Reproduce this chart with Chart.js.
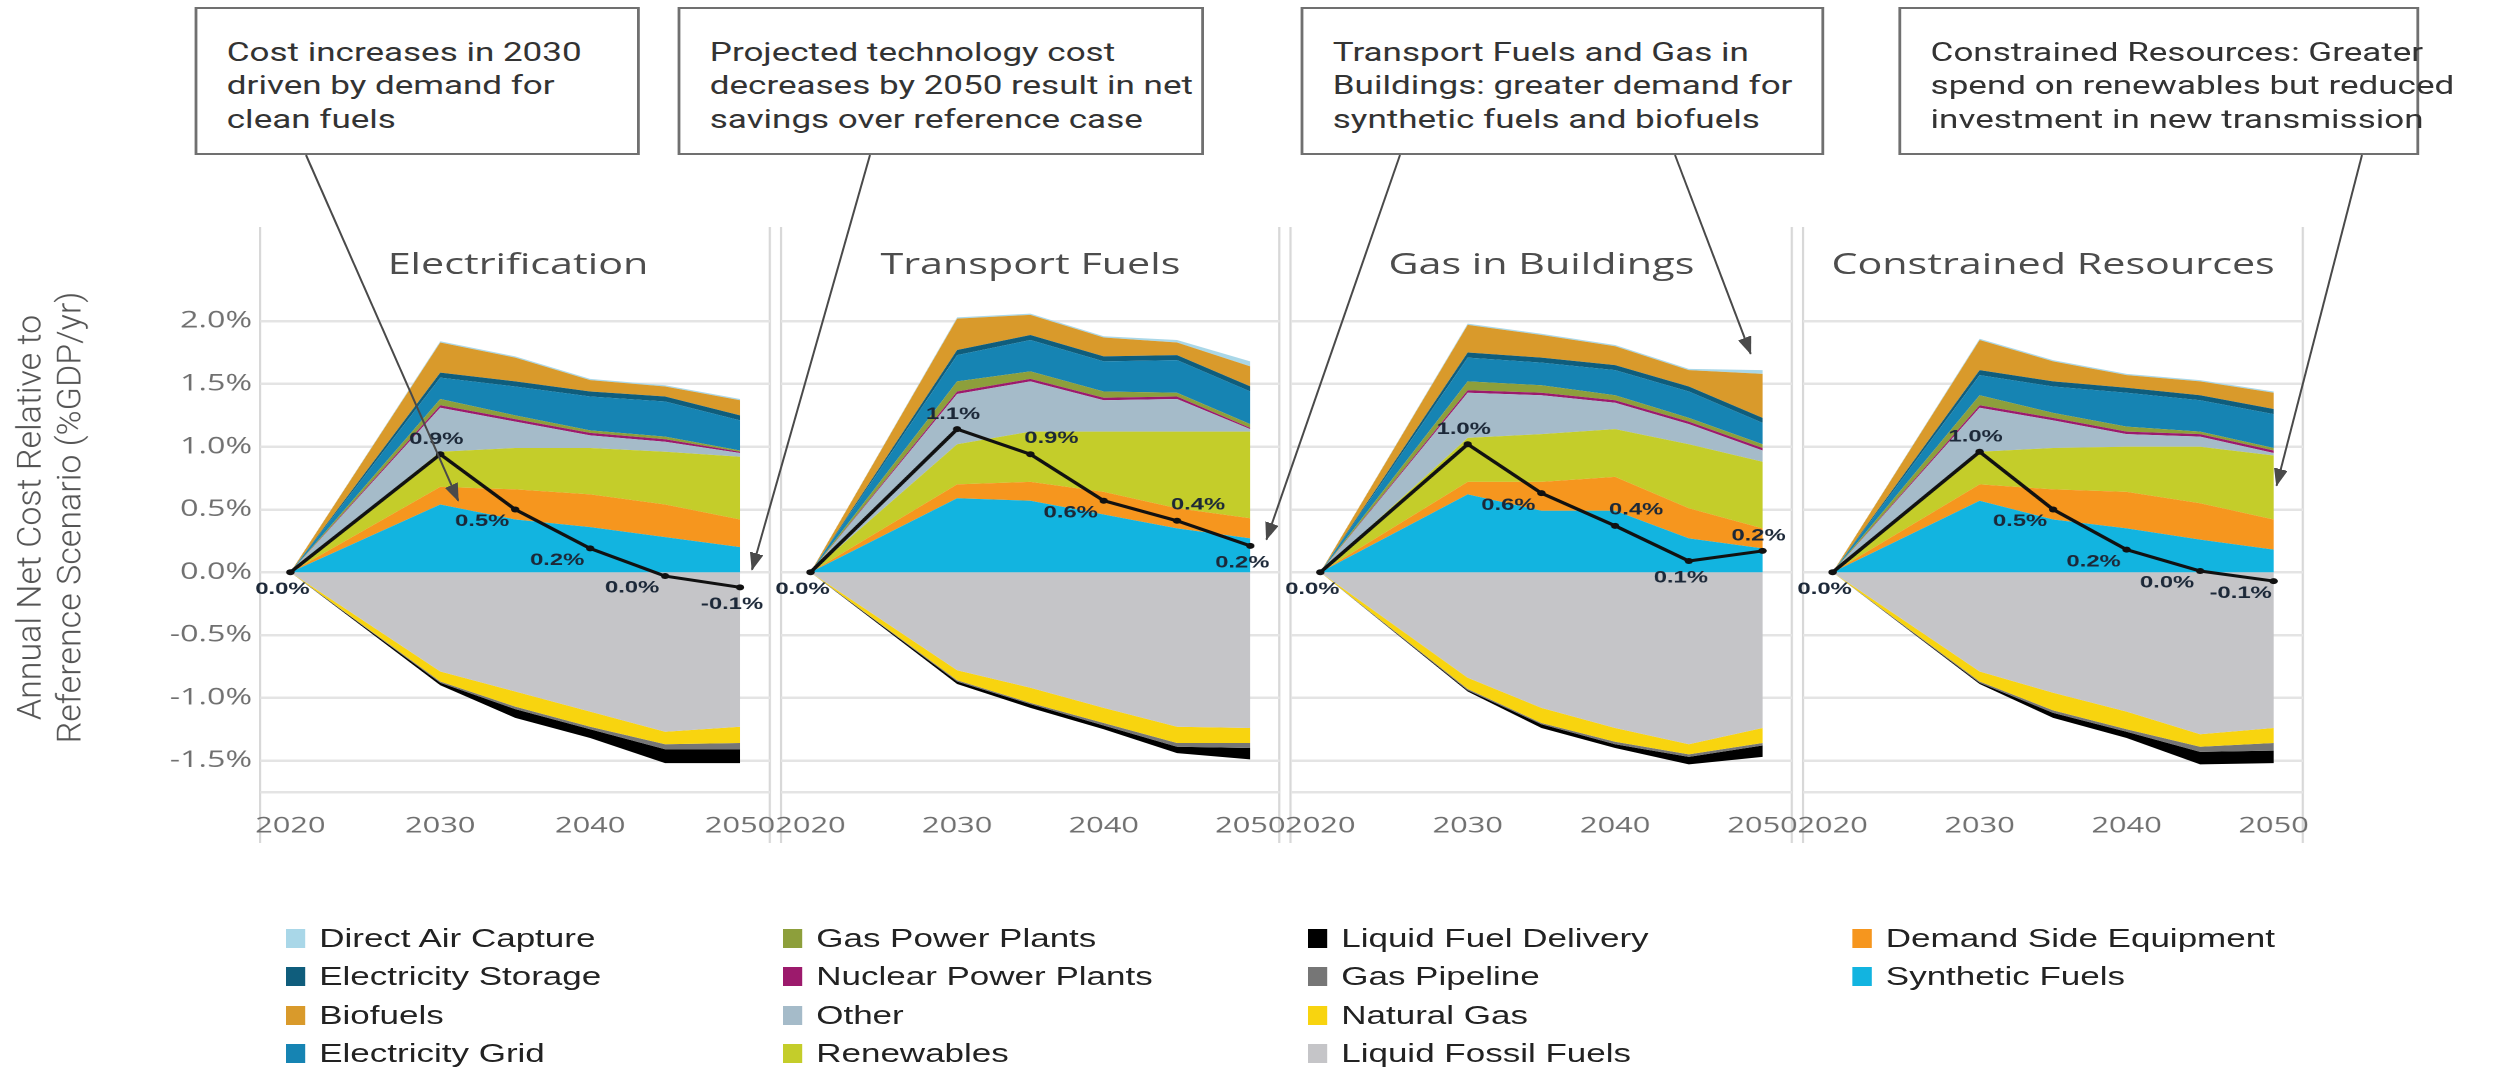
<!DOCTYPE html>
<html>
<head>
<meta charset="utf-8">
<title>Annual net cost relative to reference scenario</title>
<script src="https://cdn.jsdelivr.net/npm/chart.js@4.4.1/dist/chart.umd.min.js"></script>
<style>
  html, body { margin: 0; padding: 0; background: #fff; }
  body { position: relative; width: 2509px; height: 1070px; overflow: hidden; }
  #figure { position: absolute; left: 0; top: 0; width: 1792px; height: 1070px; transform: scaleX(1.4); transform-origin: 0 0; }
  #figure canvas { position: absolute; top: 200px; }
  .panel-title { position: absolute; top: 243px; height: 40px; line-height: 40px; text-align: center; font-family: 'Open Sans'; font-size: 29.5px; color: #4d4d4d; }
  .note { position: absolute; top: 7px; height: 148px; box-sizing: border-box; border: 2px solid #707070; background: #fff; padding: 27px 0 0 21px; font-family: Roboto; font-size: 25px; line-height: 33.3px; color: #333; white-space: nowrap; }
  .legend-col { position: absolute; top: 919px; font-family: 'Liberation Sans'; font-size: 25px; color: #222; }
  .legend-item { position: relative; height: 38.3px; line-height: 38.3px; padding-left: 24px; white-space: nowrap; }
  .legend-item i { position: absolute; left: 0; top: 10px; width: 14px; height: 19px; }
  #arrows { position: absolute; left: 0; top: 0; }
</style>
</head>
<body>
<div id="figure"></div>
<svg id="arrows" width="2509" height="1070">
  <defs>
    <marker id="head" viewBox="0 0 18 14" refX="17" refY="7" markerWidth="18" markerHeight="14" markerUnits="userSpaceOnUse" orient="auto">
      <path d="M0,0 L18,7 L0,14 z" fill="#4a4a4a"></path>
    </marker>
  </defs>
</svg>
<script>
const S = 1.4; // the figure is laid out narrow, then stretched sideways

const scenarios = ['Electrification', 'Transport Fuels', 'Gas in Buildings', 'Constrained Resources'];
const years = [2020, 2030, 2035, 2040, 2045, 2050];
const yearTicks = [2020, 2030, 2040, 2050];
const pctTicks = [-1.5, -1.0, -0.5, 0.0, 0.5, 1.0, 1.5, 2.0];
const yTitleLines = ['Annual Net Cost Relative to', 'Reference Scenario (%GDP/yr)'];

// one row per scenario, same order as above (%GDP/yr)
const syntheticFuels = [
  [0, 0.54, 0.42, 0.36, 0.28, 0.20],
  [0, 0.59, 0.57, 0.46, 0.35, 0.27],
  [0, 0.62, 0.49, 0.49, 0.27, 0.19],
  [0, 0.57, 0.42, 0.35, 0.26, 0.18]
];
const demandSideEquipment = [
  [0, 0.14, 0.24, 0.26, 0.26, 0.22],
  [0, 0.11, 0.15, 0.18, 0.16, 0.16],
  [0, 0.10, 0.23, 0.27, 0.24, 0.16],
  [0, 0.13, 0.24, 0.29, 0.29, 0.24]
];
const renewables = [
  [0, 0.28, 0.33, 0.37, 0.42, 0.50],
  [0, 0.32, 0.40, 0.48, 0.61, 0.69],
  [0, 0.35, 0.38, 0.38, 0.51, 0.53],
  [0, 0.26, 0.33, 0.36, 0.45, 0.51]
];
const other = [
  [0, 0.35, 0.21, 0.10, 0.08, 0.03],
  [0, 0.40, 0.40, 0.25, 0.26, 0.02],
  [0, 0.36, 0.31, 0.21, 0.16, 0.09],
  [0, 0.35, 0.22, 0.10, 0.08, 0.02]
];
const nuclearPowerPlants = [
  [0, 0.02, 0.02, 0.02, 0.02, 0.01],
  [0, 0.02, 0.02, 0.02, 0.02, 0.01],
  [0, 0.02, 0.02, 0.02, 0.02, 0.02],
  [0, 0.02, 0.02, 0.02, 0.02, 0.02]
];
const gasPowerPlants = [
  [0, 0.05, 0.03, 0.02, 0.02, 0.01],
  [0, 0.08, 0.06, 0.05, 0.03, 0.03],
  [0, 0.07, 0.06, 0.04, 0.03, 0.03],
  [0, 0.08, 0.04, 0.04, 0.02, 0.02]
];
const electricityGrid = [
  [0, 0.17, 0.23, 0.27, 0.28, 0.24],
  [0, 0.21, 0.25, 0.24, 0.26, 0.26],
  [0, 0.19, 0.18, 0.20, 0.21, 0.17],
  [0, 0.16, 0.21, 0.27, 0.25, 0.27]
];
const electricityStorage = [
  [0, 0.04, 0.04, 0.04, 0.04, 0.04],
  [0, 0.04, 0.04, 0.04, 0.04, 0.04],
  [0, 0.04, 0.04, 0.04, 0.04, 0.04],
  [0, 0.04, 0.04, 0.04, 0.04, 0.04]
];
const biofuels = [
  [0, 0.24, 0.19, 0.09, 0.08, 0.12],
  [0, 0.25, 0.16, 0.15, 0.10, 0.16],
  [0, 0.22, 0.18, 0.15, 0.13, 0.35],
  [0, 0.24, 0.16, 0.10, 0.11, 0.13]
];
const directAirCapture = [
  [0, 0.01, 0.01, 0.01, 0.01, 0.01],
  [0, 0.01, 0.01, 0.01, 0.02, 0.04],
  [0, 0.01, 0.01, 0.01, 0.01, 0.03],
  [0, 0.01, 0.01, 0.01, 0.01, 0.01]
];
const liquidFossilFuels = [
  [0, -0.79, -0.95, -1.11, -1.27, -1.23],
  [0, -0.78, -0.92, -1.08, -1.23, -1.24],
  [0, -0.84, -1.08, -1.24, -1.37, -1.24],
  [0, -0.79, -0.96, -1.11, -1.29, -1.24]
];
const naturalGas = [
  [0, -0.08, -0.12, -0.12, -0.10, -0.13],
  [0, -0.08, -0.12, -0.12, -0.13, -0.12],
  [0, -0.09, -0.12, -0.11, -0.08, -0.12],
  [0, -0.08, -0.14, -0.14, -0.10, -0.12]
];
const gasPipeline = [
  [0, -0.01, -0.02, -0.02, -0.04, -0.05],
  [0, -0.01, -0.01, -0.02, -0.03, -0.04],
  [0, -0.01, -0.01, -0.02, -0.02, -0.02],
  [0, -0.01, -0.02, -0.02, -0.04, -0.06]
];
const liquidFuelDelivery = [
  [0, -0.02, -0.07, -0.07, -0.11, -0.11],
  [0, -0.02, -0.03, -0.03, -0.05, -0.09],
  [0, -0.01, -0.03, -0.03, -0.06, -0.09],
  [0, -0.01, -0.04, -0.05, -0.10, -0.10]
];
const netCost = [
  [0, 0.94, 0.50, 0.19, -0.03, -0.12],
  [0, 1.14, 0.94, 0.57, 0.41, 0.21],
  [0, 1.02, 0.63, 0.37, 0.09, 0.17],
  [0, 0.96, 0.50, 0.18, 0.01, -0.07]
];

// which side of its point each net-cost label sits on
const labelSide = [
  ['b', 'a', 'bl', 'bl', 'bl', 'b'],
  ['b', 'a', 'ar', 'bl', 'ar', 'b'],
  ['b', 'a', 'bl', 'ar', 'b', 'a'],
  ['b', 'a', 'bl', 'bl', 'bl', 'bl']
];
const sideOffset = { b: [-8, 17], a: [-4, -15], bl: [-33, 12], ar: [21, -16] };

// stacking order, bottom up; the negative block starts at Liquid Fossil Fuels
const stackOrder = [
  ['Synthetic Fuels', syntheticFuels],
  ['Demand Side Equipment', demandSideEquipment],
  ['Renewables', renewables],
  ['Other', other],
  ['Nuclear Power Plants', nuclearPowerPlants],
  ['Gas Power Plants', gasPowerPlants],
  ['Electricity Grid', electricityGrid],
  ['Electricity Storage', electricityStorage],
  ['Biofuels', biofuels],
  ['Direct Air Capture', directAirCapture],
  ['Liquid Fossil Fuels', liquidFossilFuels],
  ['Natural Gas', naturalGas],
  ['Gas Pipeline', gasPipeline],
  ['Liquid Fuel Delivery', liquidFuelDelivery]
];

const colours = {
  'Direct Air Capture': '#a9d7e8',
  'Electricity Storage': '#0f5d7c',
  'Biofuels': '#d99a2b',
  'Electricity Grid': '#1684b3',
  'Gas Power Plants': '#8d9f3b',
  'Nuclear Power Plants': '#9c1a6c',
  'Other': '#a5bbc9',
  'Renewables': '#c4cd2a',
  'Liquid Fuel Delivery': '#000000',
  'Gas Pipeline': '#767676',
  'Natural Gas': '#f8d40f',
  'Liquid Fossil Fuels': '#c5c5c8',
  'Demand Side Equipment': '#f6961e',
  'Synthetic Fuels': '#12b4e0'
};

const legendColumns = [
  ['Direct Air Capture', 'Electricity Storage', 'Biofuels', 'Electricity Grid'],
  ['Gas Power Plants', 'Nuclear Power Plants', 'Other', 'Renewables'],
  ['Liquid Fuel Delivery', 'Gas Pipeline', 'Natural Gas', 'Liquid Fossil Fuels'],
  ['Demand Side Equipment', 'Synthetic Fuels']
];

const notes = [
  { left: 139, width: 318, text: 'Cost increases in 2030<br>driven by demand for<br>clean fuels' },
  { left: 484, width: 376, text: 'Projected technology cost<br>decreases by 2050 result in net<br>savings over reference case' },
  { left: 929, width: 374, text: 'Transport Fuels and Gas in<br>Buildings: greater demand for<br>synthetic fuels and biofuels' },
  { left: 1356, width: 372, text: 'Constrained Resources: Greater<br>spend on renewables but reduced<br>investment in new transmission' }
];
// arrow: start x on the box bottom (page px), target in the panel's data space
const arrows = [
  { from: 306, panel: 0, year: 2031.2, value: 0.57 },
  { from: 870, panel: 0, year: 2050.8, value: 0.02 },
  { from: 1400, panel: 1, year: 2051.1, value: 0.26 },
  { from: 1675, panel: 2, year: 2049.2, value: 1.74 },
  { from: 2362, panel: 3, year: 2050.2, value: 0.69 }
];

const panels = [
  { left: 0, width: 554 },
  { left: 554, width: 364 },
  { left: 918, width: 366 },
  { left: 1284, width: 365 }
];

Chart.defaults.font.family = "'Open Sans', sans-serif";

const fig = document.getElementById('figure');
const clear = 'rgba(0,0,0,0)';

function fmt(v) {
  if (Math.abs(v) < 0.05) v = 0;
  return v.toFixed(1) + '%';
}

function labelPlugin(i) {
  return {
    id: 'netLabels' + i,
    afterDatasetsDraw(chart) {
      const meta = chart.getDatasetMeta(chart.data.datasets.length - 1);
      const ctx = chart.ctx;
      ctx.save();
      ctx.font = 'bold 17px "Liberation Sans"';
      ctx.fillStyle = '#1c2838';
      ctx.textAlign = 'center';
      ctx.textBaseline = 'middle';
      meta.data.forEach((pt, j) => {
        const off = sideOffset[labelSide[i][j]];
        ctx.fillText(fmt(netCost[i][j]), pt.x + off[0] / S, pt.y + off[1]);
      });
      ctx.restore();
    }
  };
}

// y axis title, drawn so that the sideways stretch does not fatten it
const yTitle = {
  id: 'yTitle',
  afterDraw(chart) {
    const ctx = chart.ctx;
    const a = chart.chartArea;
    const cy = (a.top + a.bottom) / 2 + 8;
    ctx.save();
    ctx.font = '300 34px Roboto';
    ctx.fillStyle = '#555';
    ctx.textAlign = 'center';
    ctx.textBaseline = 'middle';
    yTitleLines.forEach((t, k) => {
      ctx.save();
      ctx.translate((32 + 40 * k) / S, cy);
      ctx.scale(1 / S, 1);
      ctx.rotate(-Math.PI / 2);
      ctx.fillText(t, 0, 0);
      ctx.restore();
    });
    ctx.restore();
  }
};

const charts = scenarios.map((name, i) => {
  const p = panels[i];
  const canvas = document.createElement('canvas');
  canvas.width = p.width;
  canvas.height = 660;
  canvas.style.left = p.left + 'px';
  fig.appendChild(canvas);

  const title = document.createElement('div');
  title.className = 'panel-title';
  const areaLeft = i === 0 ? p.left + 186 : p.left;
  title.style.left = areaLeft + 'px';
  title.style.width = (p.left + p.width - areaLeft) + 'px';
  title.textContent = name;
  fig.appendChild(title);

  const datasets = stackOrder.map(([label, values], k) => ({
    label: label,
    data: years.map((yr, j) => ({ x: yr, y: values[i][j] })),
    backgroundColor: colours[label],
    borderWidth: 0,
    pointRadius: 0,
    fill: (k === 0 || label === 'Liquid Fossil Fuels') ? 'origin' : '-1',
    order: 1
  }));
  datasets.push({
    label: 'Net cost',
    data: years.map((yr, j) => ({ x: yr, y: netCost[i][j] })),
    stack: 'net',
    borderColor: '#111',
    borderWidth: 3,
    pointRadius: 3,
    pointBackgroundColor: '#111',
    pointBorderWidth: 0,
    fill: false,
    order: 0
  });

  return new Chart(canvas, {
    type: 'line',
    data: { datasets: datasets },
    plugins: i === 0 ? [labelPlugin(i), yTitle] : [labelPlugin(i)],
    options: {
      responsive: false,
      devicePixelRatio: 2,
      animation: false,
      layout: { padding: { top: 27, left: 0, right: 0, bottom: 0 } },
      plugins: { legend: { display: false }, tooltip: { enabled: false } },
      scales: {
        x: {
          type: 'linear',
          min: 2018,
          max: 2052,
          afterBuildTicks: s => { s.ticks = [2018].concat(yearTicks, [2052]).map(v => ({ value: v })); },
          afterFit: s => { s.height = 68; },
          border: { display: false },
          grid: {
            color: c => (c.tick && (c.tick.value === 2018 || c.tick.value === 2052)) ? '#d8d8d8' : clear,
            lineWidth: 1.6,
            tickLength: 51
          },
          ticks: {
            autoSkip: false,
            maxRotation: 0,
            padding: -30,
            color: '#707070',
            font: { size: 22 },
            callback: v => (v === 2018 || v === 2052) ? '' : String(v)
          }
        },
        y: {
          stacked: true,
          min: -1.75,
          max: 2.75,
          afterBuildTicks: s => { s.ticks = [-1.75].concat(pctTicks, [2.75]).map(v => ({ value: v })); },
          afterFit: s => { s.width = i === 0 ? 186 : 0; },
          border: { display: false },
          grid: {
            color: c => (c.tick && c.tick.value === 2.75) ? clear : '#e4e4e4',
            lineWidth: 2.5,
            drawTicks: false
          },
          ticks: {
            display: i === 0,
            padding: 6,
            color: '#707070',
            font: { size: 23 },
            callback: v => (v === -1.75 || v === 2.75) ? '' : v.toFixed(1) + '%'
          }
        }
      }
    }
  });
});

notes.forEach(n => {
  const d = document.createElement('div');
  d.className = 'note';
  d.style.left = n.left + 'px';
  d.style.width = n.width + 'px';
  d.innerHTML = n.text;
  fig.appendChild(d);
});

const legendLeft = [204, 559, 934, 1323];
legendColumns.forEach((col, c) => {
  const d = document.createElement('div');
  d.className = 'legend-col';
  d.style.left = legendLeft[c] + 'px';
  col.forEach(name => {
    const item = document.createElement('div');
    item.className = 'legend-item';
    item.innerHTML = '<i style="background:' + colours[name] + '"></i>' + name;
    d.appendChild(item);
  });
  fig.appendChild(d);
});

const svg = document.getElementById('arrows');
arrows.forEach(a => {
  const ch = charts[a.panel];
  const x2 = (panels[a.panel].left + ch.scales.x.getPixelForValue(a.year)) * S;
  const y2 = 200 + ch.scales.y.getPixelForValue(a.value);
  const line = document.createElementNS('http://www.w3.org/2000/svg', 'line');
  line.setAttribute('x1', a.from);
  line.setAttribute('y1', 155);
  line.setAttribute('x2', x2);
  line.setAttribute('y2', y2);
  line.setAttribute('stroke', '#4a4a4a');
  line.setAttribute('stroke-width', 2);
  line.setAttribute('marker-end', 'url(#head)');
  svg.appendChild(line);
});
</script>
</body>
</html>
